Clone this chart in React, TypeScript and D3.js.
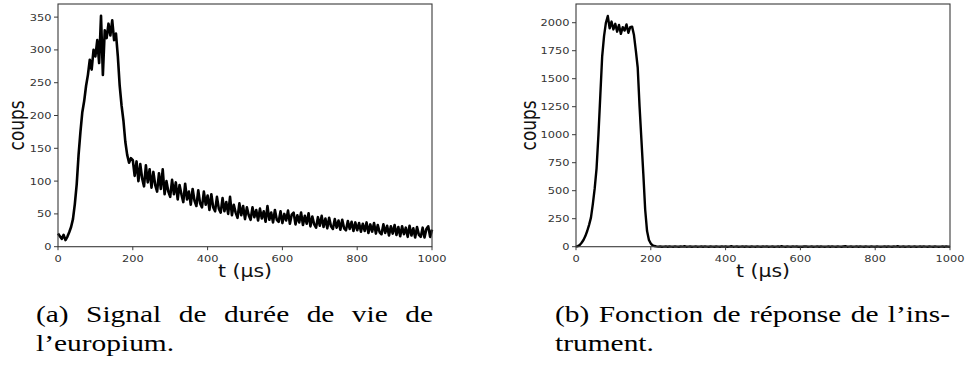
import React, { useRef, useLayoutEffect } from "react";
import * as d3 from "d3";

const W = 965;
const H = 372;
const SX = 1.2; // horizontal stretch of the whole reference picture
const CAP_SX = 1.28;

const SAMPLE_STEP = 5; // µs between samples
const xTicks = [0, 200, 400, 600, 800, 1000];
const yTicksA = [0, 50, 100, 150, 200, 250, 300, 350];
const yTicksB = [0, 250, 500, 750, 1000, 1250, 1500, 1750, 2000];

// (a) europium lifetime signal, counts every 5 µs
const countsA = [
  20, 16, 12, 18, 10, 15, 22, 30, 42, 65,
  95, 140, 175, 205, 222, 245, 262, 285, 270, 300,
  290, 315, 280, 352, 262, 330, 318, 340, 322, 345,
  315, 325, 290, 245, 215, 192, 160, 140, 128, 135,
  132, 108, 130, 100, 126, 104, 92, 124, 98, 118,
  90, 114, 94, 84, 112, 88, 118, 80, 100, 84,
  76, 102, 80, 98, 72, 94, 80, 68, 96, 72,
  84, 64, 88, 70, 62, 86, 66, 60, 84, 64,
  78, 56, 80, 60, 54, 76, 58, 52, 74, 54,
  68, 50, 76, 48, 64, 52, 44, 66, 48, 62,
  42, 60, 48, 41, 60, 45, 56, 40, 58, 43,
  54, 38, 62, 41, 52, 37, 56, 41, 38, 54,
  36, 50, 40, 55, 35, 49, 52, 34, 48, 37,
  52, 33, 47, 35, 51, 31, 46, 34, 29, 45,
  32, 47, 30, 43, 28, 44, 31, 27, 42, 29,
  40, 26, 41, 28, 25, 39, 27, 38, 24, 37,
  25, 36, 23, 35, 24, 37, 21, 34, 23, 36,
  20, 33, 22, 19, 34, 21, 32, 17, 31, 20,
  33, 18, 30, 16, 31, 19, 29, 15, 32, 17,
  28, 14, 30, 18, 15, 29, 14, 27, 31, 15,
  26,
];

// (b) instrument response function, counts every 5 µs
const countsB = [
  0, 5, 15, 35, 60, 95, 140, 195, 260, 380,
  520, 700, 1000, 1350, 1700, 1880, 2000, 2060, 1950, 2010,
  1940, 1990, 1920, 1980, 1900, 1960, 1930, 1985, 1910, 1960,
  1965, 1890, 1750, 1600, 1250, 950, 650, 330, 140, 60,
  28, 12, 6, 3, 1,
  2, 0, 1, 3, 0, 2, 1, 0, 3, 1, 0, 2, 1, 4, 0, 1, 2, 0, 1, 3,
  0, 1, 2, 0, 3, 1, 0, 2, 1, 0, 2, 1, 0, 3, 1, 2, 0, 1, 4, 0,
  1, 2, 0, 1, 3, 0, 2, 1, 0, 2, 1, 0, 3, 1, 0, 2, 1, 3, 0, 1,
  2, 0, 1, 2, 0, 4, 1, 0, 2, 1, 0, 3, 1, 2, 0, 1, 0, 2, 3, 0,
  1, 2, 0, 1, 3, 0, 2, 1, 0, 1, 2, 0, 3, 1, 0, 2, 1, 0, 2, 4,
  0, 1, 2, 0, 1, 3, 0, 2, 1, 0, 2, 1, 0, 3, 1, 0, 2, 1, 0, 1,
  3, 0, 2, 1, 0, 2, 1, 4, 0, 1, 2, 0, 1, 3, 0, 1, 2, 0, 1, 2,
  0, 3, 1, 0, 2, 1, 0, 2, 1, 0, 1, 2, 0, 3, 1, 0,
];

const captionA = ["(a) Signal de durée de vie de", "l’europium."];
const captionB = ["(b) Fonction de réponse de l’ins-", "trument."];

const st = (x: number, y: number) => `translate(${x},${y}) scale(${SX},1)`;

type PanelProps = {
  x0: number;
  x1: number;
  top: number;
  bottom: number;
  yMax: number;
  yTicks: number[];
  counts: number[];
  yLabelX: number;
  lineWidth: number;
};

function Panel({ x0, x1, top, bottom, yMax, yTicks, counts, yLabelX, lineWidth }: PanelProps) {
  const x = d3.scaleLinear().domain([0, 1000]).range([x0, x1]);
  const y = d3.scaleLinear().domain([0, yMax]).range([bottom, top]);
  const line = d3
    .line<number>()
    .x((_, i) => x(i * SAMPLE_STEP))
    .y((d) => y(d));
  const axisColor = "#3a3a3a";
  return (
    <g>
      <path
        d={line(counts) || ""}
        fill="none"
        stroke="#000"
        strokeWidth={lineWidth}
        strokeLinejoin="round"
      />
      <rect
        x={x0}
        y={top}
        width={x1 - x0}
        height={bottom - top}
        fill="none"
        stroke={axisColor}
        strokeWidth={1.1}
      />
      {yTicks.map((t) => (
        <g key={"y" + t}>
          <line x1={x0 - 4} x2={x0} y1={y(t)} y2={y(t)} stroke={axisColor} strokeWidth={1} />
          <text
            transform={st(x0 - 6.5, y(t) + 3.4)}
            textAnchor="end"
            fontFamily="DejaVu Sans"
            fontSize={9.5}
            fill="#333"
          >
            {t}
          </text>
        </g>
      ))}
      {xTicks.map((t) => (
        <g key={"x" + t}>
          <line x1={x(t)} x2={x(t)} y1={bottom} y2={bottom + 3.5} stroke={axisColor} strokeWidth={1} />
          <text
            transform={st(x(t), bottom + 15)}
            textAnchor="middle"
            fontFamily="DejaVu Sans"
            fontSize={9.5}
            fill="#333"
          >
            {t}
          </text>
        </g>
      ))}
      <text
        transform={st((x0 + x1) / 2, 277)}
        textAnchor="middle"
        fontFamily="DejaVu Sans"
        fontSize={17}
        fill="#111"
      >
        t (µs)
      </text>
      <text
        transform={`translate(${yLabelX},${(top + bottom) / 2}) scale(${SX},1) rotate(-90)`}
        textAnchor="middle"
        fontFamily="DejaVu Sans"
        fontSize={17}
        fill="#111"
      >
        coups
      </text>
    </g>
  );
}

function CaptionLine({
  x,
  y,
  width,
  text,
  justify,
}: {
  x: number;
  y: number;
  width: number;
  text: string;
  justify: boolean;
}) {
  const ref = useRef<SVGTextElement>(null);
  useLayoutEffect(() => {
    const el = ref.current;
    if (!el || !justify) return;
    el.style.wordSpacing = "0px";
    const natural = el.getComputedTextLength();
    const gaps = text.split(" ").length - 1;
    if (gaps > 0) {
      const extra = (width / CAP_SX - natural) / gaps;
      el.style.wordSpacing = `${extra}px`;
    }
  }, [text, width, justify]);
  return (
    <text
      ref={ref}
      transform={`translate(${x},${y}) scale(${CAP_SX},1)`}
      fontFamily="'Liberation Serif', 'Times New Roman', Times, serif"
      fontSize={23}
      fill="#000"
    >
      {text}
    </text>
  );
}

export default function App() {
  return (
    <svg
      width={W}
      height={H}
      viewBox={`0 0 ${W} ${H}`}
      style={{ position: "absolute", left: 0, top: 0, background: "#fff" }}
    >
      <rect width={W} height={H} fill="#fff" />
      <Panel
        x0={58}
        x1={432}
        top={4}
        bottom={246.7}
        yMax={370}
        yTicks={yTicksA}
        counts={countsA}
        yLabelX={24}
        lineWidth={2.6}
      />
      <Panel
        x0={576}
        x1={950}
        top={4}
        bottom={246.7}
        yMax={2167}
        yTicks={yTicksB}
        counts={countsB}
        yLabelX={536}
        lineWidth={2.4}
      />
      <CaptionLine x={36} y={322} width={397} text={captionA[0]} justify={true} />
      <CaptionLine x={36} y={351} width={397} text={captionA[1]} justify={false} />
      <CaptionLine x={555} y={322} width={395} text={captionB[0]} justify={true} />
      <CaptionLine x={555} y={351} width={395} text={captionB[1]} justify={false} />
    </svg>
  );
}
